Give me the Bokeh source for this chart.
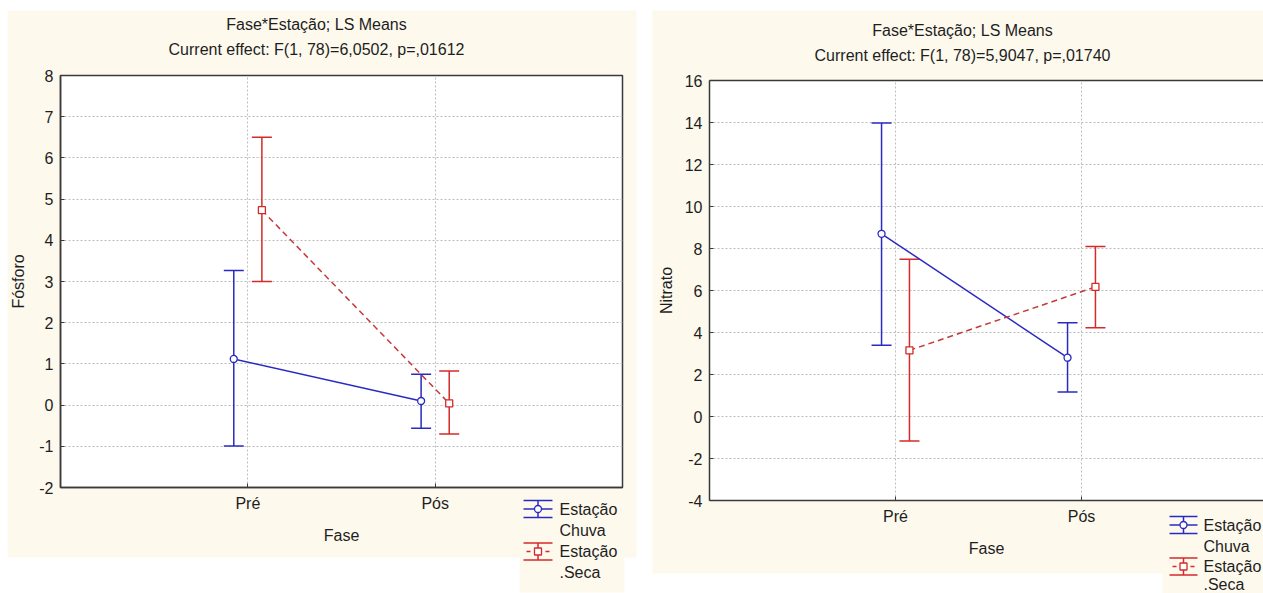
from bokeh.plotting import figure
from bokeh.models import (Range1d, FixedTicker, Whisker, TeeHead, ColumnDataSource, GridBox,
                          LinearAxis)
from bokeh.core.properties import value
from bokeh.embed import file_html
from bokeh.resources import INLINE

# ---------------- data ----------------
fases = ["Pré", "Pós"]
fase_pos = [1, 2]
series_names = [["Estação", "Chuva"], ["Estação", ".Seca"]]

fosforo_chuva_mean = [1.12, 0.10]
fosforo_chuva_upper = [3.27, 0.75]
fosforo_chuva_lower = [-0.99, -0.56]
fosforo_seca_mean = [4.73, 0.04]
fosforo_seca_upper = [6.50, 0.83]
fosforo_seca_lower = [3.00, -0.70]

nitrato_chuva_mean = [8.70, 2.80]
nitrato_chuva_upper = [13.98, 4.47]
nitrato_chuva_lower = [3.39, 1.17]
nitrato_seca_mean = [3.15, 6.17]
nitrato_seca_upper = [7.49, 8.10]
nitrato_seca_lower = [-1.17, 4.23]

title_left = ["Fase*Estação; LS Means", "Current effect: F(1, 78)=6,0502, p=,01612"]
title_right = ["Fase*Estação; LS Means", "Current effect: F(1, 78)=5,9047, p=,01740"]
y_ticks_left = [-2, -1, 0, 1, 2, 3, 4, 5, 6, 7, 8]
y_ticks_right = [-4, -2, 0, 2, 4, 6, 8, 10, 12, 14, 16]

# ---------------- style ----------------
CREAM = "#fdf9ed"
BLUE = "#2a2ac2"
RED = "#d42a2a"
RED_LINE = "#c43a3a"
TXT = "#1e1e1e"
AX = "#3a3a3a"
GRID = "#bdbdbd"
FONT = "Liberation Sans"
FS = "16px"
DODGE = 0.075
PAGE_W, PAGE_H = 1263, 593


def build(d):
    fl, fr, ft, fb = d["frame"]
    x0p, y0p = d["origin"]
    W, H = d["size"]
    p = figure(width=W, height=H,
               x_range=Range1d(0, d["xend"]), y_range=Range1d(d["yticks"][0], d["yticks"][-1]),
               min_border_left=fl - x0p, min_border_right=x0p + W - fr,
               min_border_top=ft - y0p, min_border_bottom=y0p + H - fb,
               output_backend="svg", toolbar_location=None, tools="",
               background_fill_color="white", border_fill_color=None,
               outline_line_color=AX if d["outline"] else None, outline_line_width=1.5,
               frame_align=False)

    xt = FixedTicker(ticks=fase_pos)
    yt = FixedTicker(ticks=d["yticks"])
    p.xaxis.ticker = xt
    p.xaxis.major_label_overrides = {pos: name for pos, name in zip(fase_pos, fases)}
    p.yaxis.ticker = yt
    p.yaxis.major_label_overrides = {v: str(v) for v in d["yticks"]}
    for ax in (p.xaxis[0], p.yaxis[0]):
        ax.axis_line_color = AX
        ax.axis_line_width = 1.5
        ax.major_tick_in = 4
        ax.major_tick_out = 0
        ax.major_tick_line_color = AX
        ax.minor_tick_line_color = None
        ax.major_label_text_font = FONT
        ax.major_label_text_font_size = FS
        ax.major_label_text_color = TXT
        ax.axis_label_text_font = FONT
        ax.axis_label_text_font_size = FS
        ax.axis_label_text_font_style = "normal"
        ax.axis_label_text_color = TXT
    p.xaxis.axis_label = "Fase"
    p.yaxis.axis_label = d["ylabel"]
    p.xaxis.major_label_standoff = 7
    p.xaxis.axis_label_standoff = 12
    p.yaxis.major_label_standoff = 7
    p.yaxis.axis_label_standoff = d["ylabel_standoff"]

    if not d["outline"]:
        # frame runs off the page on the right: only the top edge is drawn
        top = LinearAxis(ticker=FixedTicker(ticks=[]), axis_line_color=AX, axis_line_width=1.5,
                         major_tick_line_color=None, minor_tick_line_color=None)
        p.add_layout(top, "above")

    p.xgrid.ticker = xt
    p.ygrid.ticker = yt
    for g in (p.xgrid[0], p.ygrid[0]):
        g.grid_line_color = GRID
        g.grid_line_dash = "2 2"
        g.grid_line_width = 1

    for (mean, upper, lower, off, color, lcolor, dash, marker) in d["series"]:
        xs = [v + off for v in fase_pos]
        src = ColumnDataSource(dict(x=xs, mean=mean, upper=upper, lower=lower))
        w = Whisker(source=src, base="x", upper="upper", lower="lower", dimension="height",
                    line_color=color, line_width=1.5, level="underlay",
                    upper_head=TeeHead(size=20, line_color=color, line_width=1.5),
                    lower_head=TeeHead(size=20, line_color=color, line_width=1.5))
        p.add_layout(w)
        p.line("x", "mean", source=src, line_color=lcolor, line_width=1.5, line_dash=dash)
        p.scatter("x", "mean", source=src, marker=marker, size=7, fill_color="white",
                  line_color=color, line_width=1.3)
    return p


def backdrop(panels):
    """Page-sized underlay in pixel coordinates: cream panels, titles, legends."""
    b = figure(width=PAGE_W, height=PAGE_H, x_range=Range1d(0, PAGE_W),
               y_range=Range1d(PAGE_H, 0), x_axis_type=None, y_axis_type=None,
               min_border=0, output_backend="svg", toolbar_location=None, tools="",
               background_fill_color="white", border_fill_color="white",
               outline_line_color=None, frame_align=False)
    b.xgrid.visible = False
    b.ygrid.visible = False
    for d in panels:
        for (x0, x1, y0, y1) in (d["cream"], d["legend_box"]):
            b.quad(left=x0, right=x1, top=y0, bottom=y1, fill_color=CREAM, line_color=None)
        b.text(x=[d["title_x"]] * 2, y=list(d["title_y"]), text=d["title"],
               text_align="center", text_baseline="middle", text_font=value(FONT),
               text_font_size=value(FS), text_color=TXT)
        ix0, ix1, tx0 = d["legend_x"]
        icx = (ix0 + ix1) / 2
        for names, (cy, cy2), (color, dashed, marker) in zip(series_names, d["legend_y"],
                                                               d["legend_style"]):
            sx0 = [ix0, ix0, icx]
            sx1 = [ix1, ix1, icx]
            sy0 = [cy - 8.5, cy + 8.5, cy - 8.5]
            sy1 = [cy - 8.5, cy + 8.5, cy + 8.5]
            if dashed:
                sx0 += [ix0 + 3, ix1 - 7]
                sx1 += [ix0 + 7, ix1 - 3]
                sy0 += [cy, cy]
                sy1 += [cy, cy]
            else:
                sx0.append(ix0)
                sx1.append(ix1)
                sy0.append(cy)
                sy1.append(cy)
            b.segment(x0=sx0, y0=sy0, x1=sx1, y1=sy1, line_color=color, line_width=1.5)
            b.scatter(x=[icx], y=[cy], marker=marker, size=7, fill_color="white",
                      line_color=color, line_width=1.3)
            b.text(x=[tx0, tx0], y=[cy, cy2], text=names, text_align="left",
                   text_baseline="middle", text_font=value(FONT), text_font_size=value(FS),
                   text_color=TXT)
    return b


left_cfg = dict(
    origin=(0, 0), size=(644, PAGE_H), frame=(60, 622, 75, 487), xend=3.0, outline=True,
    yticks=y_ticks_left, ylabel="Fósforo", ylabel_standoff=9,
    cream=(7, 636, 10, 557), legend_box=(519, 624, 494, 592),
    title=title_left, title_x=316, title_y=(23.5, 48.5),
    legend_x=(523, 552, 559), legend_y=((508.5, 530), (551, 572)),
    legend_style=((BLUE, False, "circle"), (RED, True, "square")),
    series=[
        (fosforo_chuva_mean, fosforo_chuva_upper, fosforo_chuva_lower, -DODGE, BLUE, BLUE, "solid", "circle"),
        (fosforo_seca_mean, fosforo_seca_upper, fosforo_seca_lower, DODGE, RED, RED_LINE, "6 4", "square"),
    ],
)

right_cfg = dict(
    origin=(644, 0), size=(PAGE_W - 644, PAGE_H), frame=(709, 1263, 80, 500), xend=554 / 186.0,
    outline=False,
    yticks=y_ticks_right, ylabel="Nitrato", ylabel_standoff=7,
    cream=(652, 1263, 10, 573), legend_box=(1162, 1263, 508, 593),
    title=title_right, title_x=962, title_y=(29.5, 55),
    legend_x=(1169, 1197, 1203), legend_y=((524.5, 545.5), (566, 584)),
    legend_style=((BLUE, False, "circle"), (RED, True, "square")),
    series=[
        (nitrato_chuva_mean, nitrato_chuva_upper, nitrato_chuva_lower, -DODGE, BLUE, BLUE, "solid", "circle"),
        (nitrato_seca_mean, nitrato_seca_upper, nitrato_seca_lower, DODGE, RED, RED_LINE, "6 4", "square"),
    ],
)

under = backdrop([left_cfg, right_cfg])
p = GridBox(children=[(under, 0, 0, 1, 2), (build(left_cfg), 0, 0), (build(right_cfg), 0, 1)],
            spacing=0)

open("out.html", "w").write(file_html(p, INLINE))
